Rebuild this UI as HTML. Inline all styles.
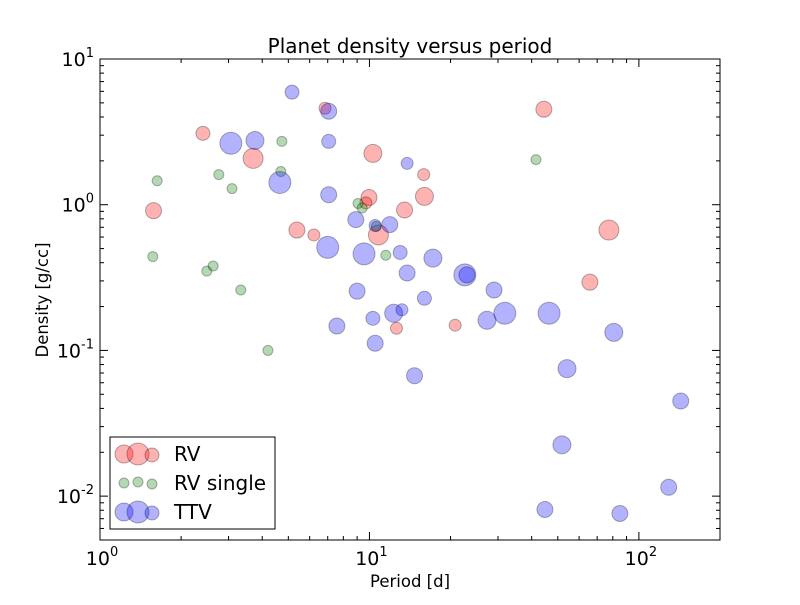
<!DOCTYPE html>
<html><head><meta charset="utf-8"><style>
body{margin:0;background:#fff}
svg text{font-family:"DejaVu Sans","Liberation Sans",sans-serif;fill:#000}
</style></head><body>
<svg id="chart" width="800" height="600">
<rect width="800" height="600" fill="#fff"/>
<text x="410" y="53" font-size="20" text-anchor="middle">Planet density versus period</text>
<text x="410" y="587" font-size="16.5" text-anchor="middle">Period [d]</text>
<text x="48" y="300" font-size="16.5" text-anchor="middle" transform="rotate(-90 48 300)">Density [g/cc]</text>
<g id="marks"></g>
<g id="axes"></g>
<rect x="100" y="59" width="620" height="481" fill="none" stroke="#000" stroke-width="1"/>
<g>
<rect x="110" y="437" width="165" height="92" fill="#fff" stroke="#000"/>
<g>
<circle cx="124" cy="454" r="9" fill="rgba(255,0,0,0.3)" stroke="rgba(0,0,0,0.3)"/><circle cx="138" cy="454" r="11" fill="rgba(255,0,0,0.3)" stroke="rgba(0,0,0,0.3)"/><circle cx="152" cy="455" r="7" fill="rgba(255,0,0,0.3)" stroke="rgba(0,0,0,0.3)"/>
<text x="174" y="461" font-size="20">RV</text></g>
<g>
<circle cx="124" cy="483" r="5" fill="rgba(0,128,0,0.3)" stroke="rgba(0,0,0,0.3)"/><circle cx="138" cy="482" r="5" fill="rgba(0,128,0,0.3)" stroke="rgba(0,0,0,0.3)"/><circle cx="152" cy="484" r="5" fill="rgba(0,128,0,0.3)" stroke="rgba(0,0,0,0.3)"/>
<text x="174" y="490" font-size="20">RV single</text></g>
<g>
<circle cx="124" cy="512" r="9" fill="rgba(0,0,255,0.3)" stroke="rgba(0,0,0,0.3)"/><circle cx="138" cy="512" r="11" fill="rgba(0,0,255,0.3)" stroke="rgba(0,0,0,0.3)"/><circle cx="152" cy="513" r="7" fill="rgba(0,0,255,0.3)" stroke="rgba(0,0,0,0.3)"/>
<text x="174" y="519" font-size="20">TTV</text></g>
</g>
</svg>
<script>
const rvPeriod=[2.41,1.58,3.70,5.38,6.22,6.84,10.3,9.96,9.7,10.8,13.5,15.9,16.0,12.6,20.8,44.4,65.8,77.4];
const rvDensity=[3.09,0.91,2.08,0.67,0.62,4.59,2.25,1.12,1.03,0.62,0.92,1.61,1.14,0.142,0.149,4.52,0.294,0.67];
const rvRadius=[7,8,10,8,6,6,9,8,6,10,8,6,9,6,6,8,8,10];
const singlePeriod=[1.63,1.57,2.49,2.63,2.76,3.09,3.33,4.73,4.69,4.20,9.07,9.4,10.6,11.5,41.5];
const singleDensity=[1.46,0.44,0.35,0.38,1.61,1.29,0.26,2.72,1.69,0.10,1.02,0.95,0.71,0.45,2.04];
const ttvPeriod=[5.16,7.06,7.06,3.06,3.76,4.65,7.06,7.0,8.9,10.5,11.9,9.55,13.8,13.0,13.8,17.2,9.0,7.57,10.3,12.3,13.2,16.0,10.5,14.7,22.6,23.0,29.0,27.3,31.8,46.4,54.1,80.7,51.8,44.8,85,129,143];
const ttvDensity=[5.92,4.38,2.72,2.64,2.76,1.42,1.17,0.51,0.79,0.72,0.73,0.46,1.92,0.47,0.34,0.43,0.255,0.147,0.166,0.18,0.19,0.228,0.112,0.067,0.33,0.33,0.26,0.161,0.18,0.18,0.075,0.133,0.0225,0.0081,0.0076,0.0115,0.045];
const ttvRadius=[7,8,7,11,9,11,8,11,8,6,8,11,6,7,8,9,8,8,7,9,6,7,8,8,11,8,8,9,11,11,9,9,9,8,8,8,8];
const xTickValues=[1,10,100];
const xTickExps=["0","1","2"];
const yTickValues=[0.01,0.1,1,10];
const yTickExps=["-2","-1","0","1"];
const X0=100,X1=720,Y0=540,Y1=59,xmin=Math.log10(1),xmax=Math.log10(200),ymin=Math.log10(0.005),ymax=Math.log10(10);
function sx(v){return X0+(Math.log10(v)-xmin)/(xmax-xmin)*(X1-X0);}
function sy(v){return Y0-(Math.log10(v)-ymin)/(ymax-ymin)*(Y0-Y1);}
const NS="http://www.w3.org/2000/svg";
const marks=document.getElementById('marks'),axes=document.getElementById('axes');
function dot(x,y,r,fill,name){const c=document.createElementNS(NS,'circle');c.setAttribute('cx',sx(x));c.setAttribute('cy',sy(y));c.setAttribute('r',r);c.setAttribute('fill',fill);c.setAttribute('stroke','rgba(0,0,0,0.3)');


marks.appendChild(c);}
rvPeriod.forEach((p,i)=>dot(p,rvDensity[i],rvRadius[i],'rgba(255,0,0,0.3)','rv-point'));
singlePeriod.forEach((p,i)=>dot(p,singleDensity[i],5,'rgba(0,128,0,0.3)','rv-single-point'));
ttvPeriod.forEach((p,i)=>dot(p,ttvDensity[i],ttvRadius[i],'rgba(0,0,255,0.3)','ttv-point'));
function line(x1,y1,x2,y2,name){const l=document.createElementNS(NS,'line');l.setAttribute('x1',x1);l.setAttribute('y1',y1);l.setAttribute('x2',x2);l.setAttribute('y2',y2);l.setAttribute('stroke','#000');


axes.appendChild(l);}
function label(x,y,exp,anchor,name){const t=document.createElementNS(NS,'text');t.setAttribute('x',x);t.setAttribute('y',y);t.setAttribute('font-size','19');t.setAttribute('text-anchor',anchor);
t.innerHTML='10<tspan font-size="13" dy="-9">'+exp+'</tspan>';


axes.appendChild(t);}
for(let d=1;d<=200;d*=10){for(let k=1;k<10;k++){const v=d*k;if(v>200)break;const x=sx(v),L=k==1?8:4;line(x,Y0,x,Y0-L,'x-tick');line(x,Y1,x,Y1+L,'x-tick');}}
for(let d=0.001;d<=10;d*=10){for(let k=1;k<10;k++){const v=d*k;if(v<0.005||v>10.01)continue;const y=sy(v),L=k==1?8:4;line(X0,y,X0+L,y,'y-tick');line(X1,y,X1-L,y,'y-tick');}}
xTickValues.forEach((v,i)=>label(sx(v)+2,Y0+25,xTickExps[i],'middle','x-tick-label'));
yTickValues.forEach((v,i)=>label(X0-6,sy(v)+7,yTickExps[i],'end','y-tick-label'));
</script>
</body></html>
